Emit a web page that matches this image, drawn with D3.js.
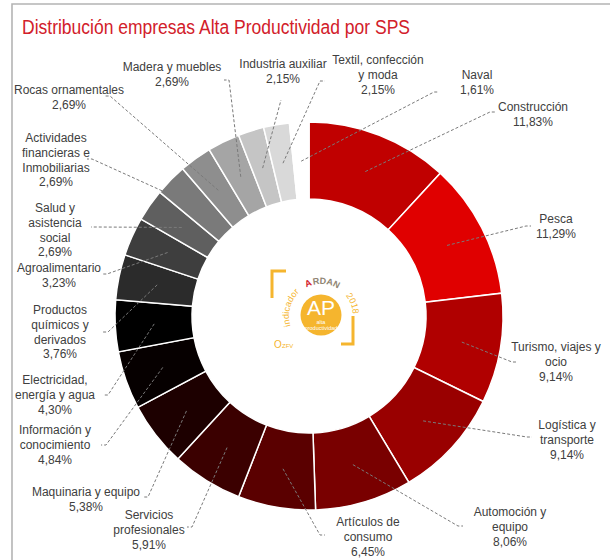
<!DOCTYPE html>
<html>
<head>
<meta charset="utf-8">
<style>
  body { margin: 0; background: #fff; }
  svg { display: block; }
  .lbl { font-family: "Liberation Sans", Arial, sans-serif; font-size: 12px; fill: #404040; }
  .leader { stroke: #7a7a7a; stroke-width: 1; stroke-dasharray: 3,2; fill: none; }
</style>
<title>Distribución empresas Alta Productividad por SPS</title>
</head>
<body>
<script src="https://cdn.jsdelivr.net/npm/d3@7"></script>
<script>

// sectors, clockwise from 12 o'clock
var sectors = ["Construcción", "Pesca", "Turismo, viajes y\nocio", "Logística y\ntransporte",
  "Automoción y\nequipo", "Artículos de\nconsumo", "Servicios\nprofesionales", "Maquinaria y equipo",
  "Información y\nconocimiento", "Electricidad,\nenergía y agua", "Productos\nquímicos y\nderivados",
  "Agroalimentario", "Salud y\nasistencia\nsocial", "Actividades\nfinancieras e\nInmobiliarias",
  "Rocas ornamentales", "Madera y muebles", "Industria auxiliar", "Textil, confección\ny moda", "Naval"];
var shares = [11.83, 11.29, 9.14, 9.14, 8.06, 6.45, 5.91, 5.38, 4.84, 4.30, 3.76, 3.23, 2.69, 2.69, 2.69, 2.69, 2.15, 2.15, 1.61];

// styling
var colors = ["#c00000", "#e00000", "#b00000", "#990000", "#790000", "#5a0000", "#3b0000", "#1d0000",
  "#060000", "#000000", "#2b2b2b", "#3e3e3e", "#5f5f5f", "#7a7a7a", "#8e8e8e", "#a5a5a5", "#c5c5c5", "#d9d9d9", "#ffffff"];
// label placement: text centre x, first line y, leader end point
var layout = [
  {x: 533, y: 111, ex: 490, ey: 112},
  {x: 556, y: 223, ex: 526, ey: 226},
  {x: 556, y: 351, ex: 512, ey: 362},
  {x: 567, y: 429, ex: 527, ey: 437},
  {x: 510, y: 516, ex: 458, ey: 526},
  {x: 368, y: 526, ex: 320, ey: 535},
  {x: 149, y: 519, ex: 192, ey: 527},
  {x: 86, y: 496, ex: 148, ey: 497},
  {x: 55, y: 434, ex: 106, ey: 445},
  {x: 55, y: 384, ex: 108, ey: 395},
  {x: 60, y: 314, ex: 108, ey: 332},
  {x: 59, y: 272, ex: 107, ey: 274},
  {x: 55, y: 212, ex: 96, ey: 227},
  {x: 56, y: 142, ex: 92, ey: 159},
  {x: 69, y: 94, ex: 110, ey: 96},
  {x: 172, y: 71, ex: 229, ey: 80},
  {x: 283, y: 68, ex: 281, ey: 100},
  {x: 378, y: 64, ex: 320, ey: 81},
  {x: 477, y: 79, ex: 434, ey: 92}
];

var W = 610, H = 560;
var cx = 309, cy = 316, R = 194, r = 117;

var svg = d3.select("body").append("svg").attr("width", W).attr("height", H);

// frame
svg.append("path").attr("d", "M12,560 V4 H610").attr("fill", "none")
  .attr("stroke", "#b4b4b4").attr("stroke-width", 1.6);

svg.append("text").attr("x", 22).attr("y", 34)
  .attr("font-family", "Liberation Sans, Arial, sans-serif").attr("font-size", 19.5)
  .attr("fill", "#d2202a").attr("textLength", 388).attr("lengthAdjust", "spacingAndGlyphs")
  .text("Distribución empresas Alta Productividad por SPS");

var data = sectors.map((s, i) => ({name: s, value: shares[i], i: i}));
var pie = d3.pie().value(d => d.value).sort(null);
var arcs = pie(data);
var arc = d3.arc().innerRadius(r).outerRadius(R);
var mid = d3.arc().innerRadius(155).outerRadius(155);

var g = svg.append("g").attr("transform", `translate(${cx},${cy})`);

g.selectAll("path.seg")
  .data(arcs)
  .enter()
  .append("path")
  .attr("class", "seg")
  .attr("d", arc)
  .attr("fill", d => colors[d.data.i])
  .attr("stroke", "#fff")
  .attr("stroke-width", 1.5);

// leader lines
svg.append("g").selectAll("path.leader")
  .data(arcs)
  .enter()
  .append("path")
  .attr("class", "leader")
  .attr("d", function(d) {
    var c = mid.centroid(d), L = layout[d.data.i];
    var sx = cx + c[0], sy = cy + c[1];
    var tick = L.ex < cx ? -5 : 5;
    if (d.data.i == 16) tick = 0;
    return `M${sx},${sy} L${L.ex},${L.ey} l${tick},0`;
  });

// labels
var lbl = svg.append("g").selectAll("text")
  .data(arcs)
  .enter()
  .append("text")
  .attr("class", "lbl")
  .attr("text-anchor", "middle")
  .attr("x", d => layout[d.data.i].x)
  .attr("y", d => layout[d.data.i].y);

lbl.each(function(d) {
  var lines = d.data.name.split("\n");
  lines.push(d3.format(".2f")(d.data.value).replace(".", ",") + "%");
  var t = d3.select(this);
  lines.forEach((ln, k) => {
    t.append("tspan").attr("x", layout[d.data.i].x).attr("dy", k ? 14.8 : 0).text(ln);
  });
});

// centre badge
var yellow = "#f5b52e";
var font = "Liberation Sans, Arial, sans-serif";
var badge = svg.append("g").attr("transform", "translate(321,315)");
badge.append("path").attr("d", "M-49,-17 V-44 H-35").attr("fill", "none")
  .attr("stroke", yellow).attr("stroke-width", 3);
badge.append("path").attr("d", "M32,1 V29 H20").attr("fill", "none")
  .attr("stroke", yellow).attr("stroke-width", 3);
badge.append("circle").attr("r", 20.5).attr("fill", yellow);
badge.append("text").attr("y", 0).attr("text-anchor", "middle")
  .attr("font-family", font).attr("font-size", 21)
  .attr("fill", "#fff").text("AP");
badge.append("text").attr("y", 8.5).attr("text-anchor", "middle")
  .attr("font-family", font).attr("font-size", 5.5)
  .attr("fill", "#fff").text("alta");
badge.append("text").attr("y", 15).attr("text-anchor", "middle")
  .attr("font-family", font).attr("font-size", 5.5)
  .attr("fill", "#fff").text("productividad");
// ring text around the badge, clockwise from lower left
badge.append("path").attr("id", "ring").attr("fill", "none")
  .attr("d", "M-30,12 A32,32 0 1 1 30,12");
function ringText(txt, off, fill, bold) {
  badge.append("text").attr("font-family", font).attr("font-size", 9)
    .attr("fill", fill).attr("font-weight", bold ? "bold" : "normal")
    .append("textPath").attr("href", "#ring").attr("startOffset", off).text(txt);
}
ringText("indicador", "1%", yellow, false);
ringText("A", "37.5%", "#d2202a", true);
ringText("RDAN", "43.5%", "#8f8472", true);
ringText("2018", "73%", yellow, false);
badge.append("text").attr("x", -47).attr("y", 33)
  .attr("font-family", font).attr("font-size", 10)
  .attr("fill", yellow).text("O");
badge.append("text").attr("x", -39).attr("y", 33)
  .attr("font-family", font).attr("font-size", 6)
  .attr("fill", yellow).text("ZFV");

</script>
</body>
</html>
